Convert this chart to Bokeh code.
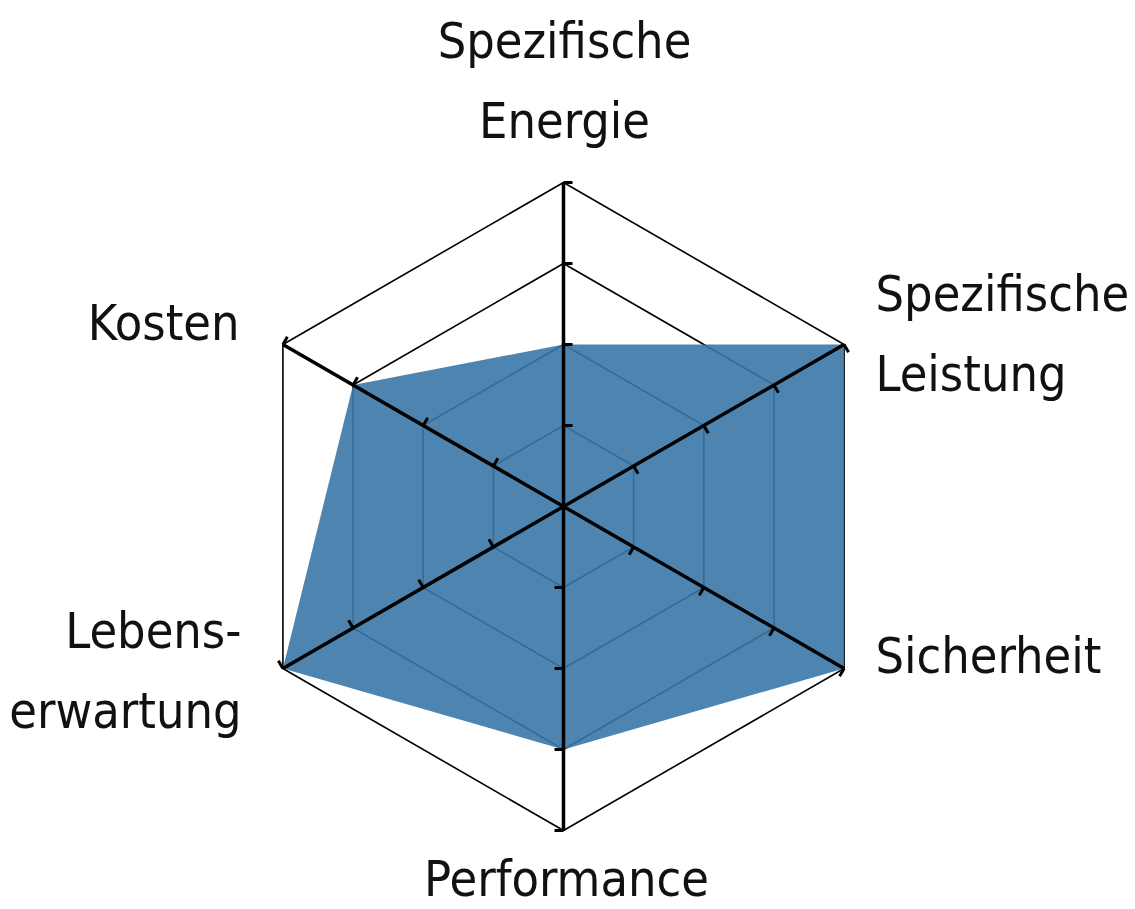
import numpy as np
from bokeh.plotting import figure
from bokeh.models import Range1d
from bokeh.core.properties import value
from bokeh.embed import file_html
from bokeh.resources import INLINE

# ---- data ----
categories = ["Spezifische Energie", "Spezifische Leistung", "Sicherheit",
              "Performance", "Lebenserwartung", "Kosten"]
label_lines = [["Spezifische", "Energie"], ["Spezifische", "Leistung"], ["Sicherheit"],
               ["Performance"], ["Lebens-", "erwartung"], ["Kosten"]]
scores = [2, 4, 4, 3, 4, 3]
levels = [1, 2, 3, 4]

# ---- layout ----
W, H = 1135, 909
OFF = 0                # page offset of the figure
CX, CY = 563, 506      # centre, page px
UNIT = 81.0            # px per level
FONT = "DejaVu Sans Condensed"
FSIZE = "50px"
BASE_FIX = -20         # empirical baseline correction of the svg text

def X(sx):
    return (sx - CX) / UNIT

def Y(sy):
    return (CY - sy) / UNIT

p = figure(width=W, height=H, output_backend="svg", toolbar_location=None,
           x_range=Range1d(X(OFF), X(OFF + W)), y_range=Range1d(Y(OFF + H), Y(OFF)),
           x_axis_type=None, y_axis_type=None, min_border=0,
           outline_line_color=None, background_fill_color="white")
p.grid.visible = False

n = len(categories)
ang = np.deg2rad(90 - 360.0 * np.arange(n) / n)
ux, uy = np.cos(ang), np.sin(ang)

# grid hexagons
for lv in levels:
    xs = list(lv * ux) + [lv * ux[0]]
    ys = list(lv * uy) + [lv * uy[0]]
    p.line(xs, ys, line_color="black", line_width=1.6)

# data polygon
sc = np.array(scores, dtype=float)
p.patch(list(sc * ux), list(sc * uy), fill_color="#3a78a7", fill_alpha=0.9,
        line_color=None)

# axes
top = max(levels)
p.segment(x0=[0] * n, y0=[0] * n, x1=list(top * ux), y1=list(top * uy),
          line_color="black", line_width=3.5)

# ticks on clockwise side
tl = 9.0 / UNIT
px_, py_ = uy, -ux   # clockwise perpendicular
tx0, ty0, tx1, ty1 = [], [], [], []
for i in range(n):
    for lv in levels:
        bx, by = lv * ux[i], lv * uy[i]
        tx0.append(bx); ty0.append(by)
        tx1.append(bx + tl * px_[i]); ty1.append(by + tl * py_[i])
p.segment(x0=tx0, y0=ty0, x1=tx1, y1=ty1, line_color="black", line_width=3)

# labels: (anchor x px, first baseline px, align)
label_pos = [(564, 60, "center"), (875, 313, "left"), (875, 675, "left"),
             (566, 898, "center"), (241, 650, "right"), (239, 342, "right")]
LH = 80
for lines, (ax, ay, al) in zip(label_lines, label_pos):
    p.text(x=[X(ax)] * len(lines),
           y=[Y(ay + BASE_FIX + k * LH) for k in range(len(lines))],
           text=lines, text_font=value(FONT), text_font_size=FSIZE,
           text_color="#111111", text_align=al, text_baseline="alphabetic")

open("out.html", "w").write(file_html(p, INLINE))
